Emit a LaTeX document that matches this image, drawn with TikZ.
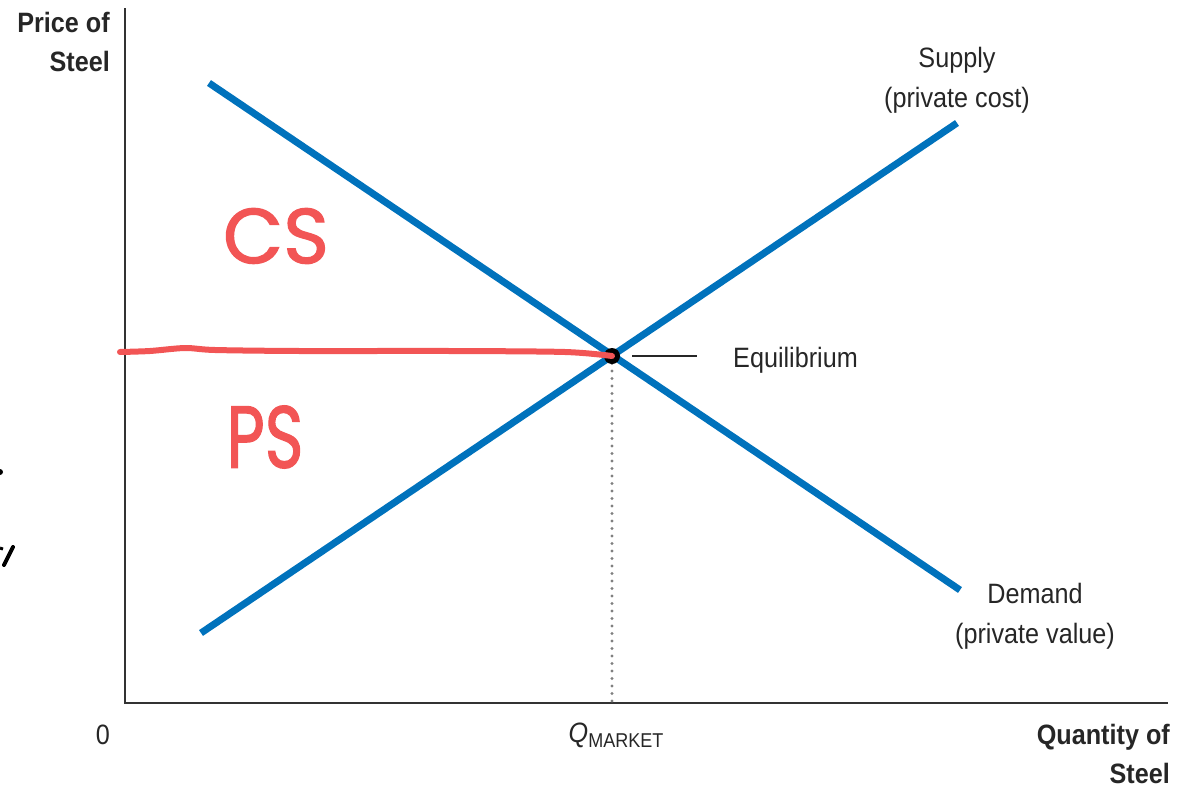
\documentclass[tikz,border=0pt]{standalone}
\usepackage{fontspec}
\setmainfont{Liberation Sans}[FakeStretch=0.9]
\newfontfamily\handfont{Poppins}[FakeBold=1.5]
\usepackage{tikz}
\definecolor{curveblue}{RGB}{0,114,188}
\definecolor{notered}{RGB}{242,85,85}

\begin{document}
\begin{tikzpicture}[x=1pt, y=-1pt,
  axis/.style={draw=black!80, line width=2pt},
  curve/.style={draw=curveblue, line width=7pt},
  txt/.style={inner sep=0pt, text=black!85, font=\fontsize{28}{40}\selectfont, align=center},
  axistxt/.style={txt, font=\fontsize{28}{38.5}\selectfont\bfseries},
  note/.style={inner sep=0pt, text=notered, font=\fontsize{78}{78}\selectfont\handfont},
  redline/.style={draw=notered, line width=6pt, line cap=round, line join=round},
  dotline/.style={draw=black!50, line width=3.2pt, line cap=round, dash pattern=on 0pt off 7.5pt}
]
\useasboundingbox (0,0) rectangle (1191,787);

\coordinate (origin) at (125,703);
\coordinate (ytop) at (125,8);
\coordinate (xend) at (1168,703);
\coordinate (eq) at (612,356);
\coordinate (dtop) at (209,83);
\coordinate (dbot) at (960,590);
\coordinate (sbot) at (201,633);
\coordinate (stop) at (957,123);
\coordinate (redstart) at (120,352);

\node [axistxt, align=right, anchor=base east] (ylab) at (110,71) {Price of\\Steel};
\node [axistxt, align=right, anchor=base east] (xlab) at (1170,783) {Quantity of\\Steel};
\node [txt, anchor=base] (zero) at (103,744) {0};
\node [txt, anchor=base] (qmarket) at (616,742) {\itshape Q\upshape\raisebox{-5pt}{\fontsize{20}{20}\selectfont MARKET}};
\node [txt, anchor=base] (supply) at (957,107) {Supply\\(private cost)};
\node [txt, anchor=base] (demand) at (1035,643) {Demand\\(private value)};
\node [txt, anchor=base west] (eqlab) at (733,367) {Equilibrium};
\node [note] (cs) at (276,236) {CS};
\node [note, font=\fontsize{88}{88}\selectfont\handfont, xscale=0.75] (ps) at (265,437) {PS};

\draw [axis] (ytop) -- (origin) -- (xend);
\draw [dotline] (eq) -- (eq |- origin);
\draw [curve] (dtop) -- (dbot);
\draw [curve] (sbot) -- (stop);
\fill [black] (eq) circle (8);
\draw [redline] plot [smooth] coordinates {(redstart) (150,351) (185,348) (215,350) (300,351) (450,351) (565,352) (eq)};
\draw [black!85, line width=1.5pt] ([xshift=20pt]eq) -- ([xshift=-36pt]eqlab.west |- eq);

\fill [black] (0,472) circle (3);
\draw [black, line width=4pt, line cap=round] (13,547) -- (4,565);
\draw [black, line width=3pt] (0,548) -- (3,549);
\end{tikzpicture}
\end{document}
